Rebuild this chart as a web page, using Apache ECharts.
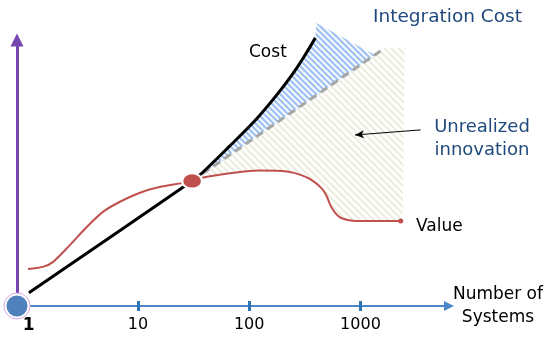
<!DOCTYPE html>
<html>
<head>
<meta charset="utf-8">
<script src="https://cdn.jsdelivr.net/npm/echarts@6/dist/echarts.min.js"></script>
<style>
  html, body { margin: 0; padding: 0; background: #ffffff; }
  #chart { width: 546px; height: 339px; }
</style>
</head>
<body>
<div id="chart"></div>
<script>
// Number of systems (log scale) against an arbitrary cost / value scale (0-100)
const tickValues = [1, 10, 100, 1000];

// Total cost: linear growth until the break-even point, then accelerating
const costCurve = [
  [1.05, 5.0], [30.7, 47.0], [37.7, 50.0], [65.6, 59.8], [114, 69.9],
  [183, 80.1], [260, 88.7], [326, 95.1], [393, 100.8]
];

// Linear extrapolation of cost beyond the break-even point
const linearTrend = [[30.7, 47.0], [1655, 97.0]];

// Value delivered
const valueCurve = [
  [1.03, 13.9], [1.40, 14.7], [1.72, 16.5], [2.45, 22.9], [3.47, 29.7],
  [4.82, 35.3], [6.83, 39.1], [10.3, 42.5], [15.6, 44.7], [25.0, 46.2],
  [30.7, 47.0], [40.9, 48.5], [69.8, 50.0], [122, 50.9], [225, 50.5],
  [294, 49.2], [362, 47.4], [444, 44.4], [492, 41.7], [535, 38.0],
  [592, 35.0], [670, 33.1], [893, 32.0], [2301, 32.0]
];

// Break-even point and origin
const breakEven = [[30.7, 47.0]];
const origin = [[0.82, 0]];

// Shaded areas: integration cost (between cost and trend) and unrealized innovation
const integrationRegion = [
  [30.7, 47.0], [37.7, 50.0], [65.6, 59.8], [114, 69.9], [183, 80.1],
  [260, 88.7], [326, 95.1], [393, 100.8], [401, 106.4], [1347, 94.4]
];
const unrealizedRegion = [
  [30.7, 47.0], [1655, 97.0], [2495, 97.0], [2395, 32.0], [2301, 32.0],
  [893, 32.0], [670, 33.1], [592, 35.0], [535, 38.0], [492, 41.7],
  [444, 44.4], [362, 47.4], [294, 49.2], [225, 50.5], [122, 50.9],
  [69.8, 50.0], [40.9, 48.5]
];

// Annotation pointers [from, to]
const integrationPointer = [[1216, 106.4], [513, 91.4]];
const unrealizedPointer = [[3467, 66.2], [893, 64.3]];

function stripes(period, width, color) {
  const c = document.createElement('canvas');
  c.width = period; c.height = period;
  const g = c.getContext('2d');
  g.strokeStyle = color;
  g.lineWidth = width;
  g.beginPath();
  for (const x0 of [-period, 0, period]) {
    g.moveTo(x0 - 1, -1);
    g.lineTo(x0 + period + 1, period + 1);
  }
  g.stroke();
  return c;
}

const blueHatch = stripes(6, 2.4, '#a3c4f3');
const beigeHatch = stripes(7, 2.2, '#ededdf');

function regionSeries(points, pattern, z) {
  return {
    type: 'custom',
    coordinateSystem: 'cartesian2d',
    silent: true,
    clip: false,
    z: z,
    data: [points[0]],
    renderItem: function (params, api) {
      return {
        type: 'polygon',
        shape: { points: points.map(function (p) { return api.coord(p); }) },
        style: { fill: { image: pattern, repeat: 'repeat' } }
      };
    }
  };
}

const FONT = 'DejaVu Sans';
const chart = echarts.init(document.getElementById('chart'), null, { renderer: 'canvas' });

const xAxisBase = {
  type: 'log',
  logBase: 10,
  min: 0.82,
  max: 6240,
  gridIndex: 0,
  position: 'bottom',
  splitLine: { show: false }
};

chart.setOption({
  animation: false,
  backgroundColor: '#ffffff',
  grid: { left: 17, right: 95, top: 40, bottom: 33 },
  xAxis: [
    Object.assign({}, xAxisBase, {
      name: 'Number of\nSystems',
      nameLocation: 'end',
      nameGap: 49,
      nameTextStyle: { fontFamily: FONT, fontSize: 17, color: '#000', align: 'center', lineHeight: 23 },
      axisLine: {
        show: true,
        symbol: ['none', 'triangle'],
        symbolSize: [10, 10],
        lineStyle: { color: '#4a86c8', width: 2 }
      },
      axisTick: { show: true, inside: false, length: 5, customValues: tickValues, lineStyle: { color: '#2e75b6', width: 3 } },
      axisLabel: {
        show: true,
        customValues: tickValues,
        margin: 11,
        fontFamily: FONT,
        fontSize: 16,
        color: '#000',
        formatter: function (v) { return v === 1 ? '{b|1}' : String(v); },
        rich: { b: { fontFamily: FONT, fontSize: 17, fontWeight: 'bold', color: '#000', padding: [0, 0, 0, 4] } }
      }
    }),
    Object.assign({}, xAxisBase, {
      axisLine: { show: false },
      axisTick: { show: true, inside: true, length: 5, customValues: tickValues, lineStyle: { color: '#2e75b6', width: 3 } },
      axisLabel: { show: false }
    })
  ],
  yAxis: {
    type: 'value',
    min: 0,
    max: 100,
    splitLine: { show: false },
    axisTick: { show: false },
    axisLabel: { show: false },
    axisLine: {
      show: true,
      symbol: ['none', 'triangle'],
      symbolSize: [13, 13],
      lineStyle: { color: '#7446ae', width: 3 }
    }
  },
  graphic: [
    { type: 'text', x: 249, y: 53, style: { text: 'Cost', font: '17px "DejaVu Sans"', fill: '#000', textVerticalAlign: 'middle' } },
    { type: 'text', x: 373, y: 17, style: { text: 'Integration Cost', font: '18.5px "DejaVu Sans"', fill: '#1f497d', textVerticalAlign: 'middle' } },
    { type: 'text', x: 482, y: 139, style: { text: 'Unrealized\ninnovation', font: '18px "DejaVu Sans"', lineHeight: 23, fill: '#1f497d', textAlign: 'center', textVerticalAlign: 'middle' } },
    { type: 'text', x: 416, y: 227, style: { text: 'Value', font: '17px "DejaVu Sans"', fill: '#000', textVerticalAlign: 'middle' } }
  ],
  series: [
    regionSeries(unrealizedRegion, beigeHatch, 1),
    regionSeries(integrationRegion, blueHatch, 2),
    {
      name: 'Trend',
      type: 'line',
      data: linearTrend,
      z: 3,
      clip: false,
      symbol: 'none',
      lineStyle: { color: '#a6a6a6', width: 3, type: [8, 5] }
    },
    {
      name: 'Cost',
      type: 'line',
      data: costCurve,
      z: 4,
      clip: false,
      smooth: 0.3,
      symbol: 'none',
      lineStyle: { color: '#000', width: 3 }
    },
    {
      name: 'Value',
      type: 'line',
      data: valueCurve,
      z: 4,
      clip: false,
      smooth: 0.3,
      showSymbol: true,
      symbol: 'circle',
      symbolSize: function (v, p) { return p.dataIndex === valueCurve.length - 1 ? 5 : 0; },
      itemStyle: { color: '#c0504d' },
      lineStyle: { color: '#c0504d', width: 2 },
      markLine: {
        silent: true,
        symbol: ['none', 'arrow'],
        symbolSize: [6, 9],
        label: { show: false },
        data: [
          [{ coord: integrationPointer[0], lineStyle: { color: '#808080', width: 1, type: 'solid' } },
           { coord: integrationPointer[1] }],
          [{ coord: unrealizedPointer[0], lineStyle: { color: '#000', width: 1, type: 'solid' } },
           { coord: unrealizedPointer[1] }]
        ]
      }
    },
    {
      name: 'Break-even',
      type: 'scatter',
      data: breakEven,
      z: 6,
      symbol: 'circle',
      symbolSize: [20, 15],
      itemStyle: { color: '#c0504d', opacity: 1, borderColor: '#fff', borderWidth: 2 }
    },
    {
      name: 'Origin ring',
      type: 'scatter',
      data: origin,
      z: 6,
      clip: false,
      symbolSize: 26,
      itemStyle: { color: '#fff', opacity: 1, borderColor: '#d8a8e8', borderWidth: 1 }
    },
    {
      name: 'Origin',
      type: 'scatter',
      data: origin,
      z: 7,
      clip: false,
      symbolSize: 21,
      itemStyle: { color: '#4f81bd', opacity: 1 }
    }
  ]
});
</script>
</body>
</html>
